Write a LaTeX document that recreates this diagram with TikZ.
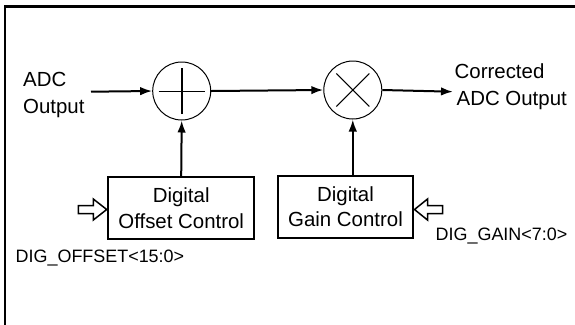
\documentclass[tikz,border=0pt]{standalone}
\usepackage{fontspec}
\setmainfont{Liberation Sans}
\usetikzlibrary{arrows.meta}
\begin{document}
\begin{tikzpicture}[x=1bp,y=-1bp,
  sumnode/.style={circle,draw,line width=1bp,minimum size=58bp,inner sep=0pt},
  ctrlbox/.style={draw,line width=2bp,minimum width=145bp,minimum height=62bp,inner sep=0pt,align=center,
    font=\fontsize{20.5}{26}\selectfont},
  lbl/.style={inner sep=0pt,align=left,font=\fontsize{20.5}{27}\selectfont},
  reg/.style={inner sep=0pt,font=\fontsize{18}{20}\selectfont},
  flow/.style={line width=2bp,-{Latex[length=12bp,width=8.5bp]}},
  hollow/.style={draw,line width=1.5bp,line join=miter}]
\useasboundingbox (0,0) rectangle (575,324);
\draw[line width=2.2bp] (5,330) -- (5,6.5) -- (580,6.5);
% summing junctions
\node[sumnode] (add) at (181.7,91) {};
\node[sumnode] (mul) at (352.8,90) {};
\draw[line width=1bp] ([xshift=-23bp]add.center) -- ([xshift=23bp]add.center);
\draw[line width=1.6bp] ([yshift=-23bp]add.center) -- ([yshift=23bp]add.center);
\draw[line width=1bp] ([shift={(-16.5bp,-16.5bp)}]mul.center) -- ([shift={(16.5bp,16.5bp)}]mul.center);
\draw[line width=1bp] ([shift={(-16.5bp,16.5bp)}]mul.center) -- ([shift={(16.5bp,-16.5bp)}]mul.center);
% boxes
\node[ctrlbox,minimum width=145.7bp] (off) at (181.2,208) {Digital\\Offset Control};
\node[ctrlbox,minimum width=135.6bp] (gain) at (345.5,206.7) {Digital\\Gain Control};
% labels
\node[lbl,anchor=north west] (in) at (23,71.7) {ADC\\Output};
\node[lbl,anchor=north west] (out) at (454.5,63.3) {Corrected\\\hspace*{2bp}ADC Output};
\node[reg,anchor=base west] (offreg) at (15.5,262) {DIG\_OFFSET<15:0>};
\node[reg,anchor=base west] (gainreg) at (435.5,240) {DIG\_GAIN<7:0>};
% connectors
\coordinate (inA) at (91,91.7);
\coordinate (outB) at (453,91.7);
\draw[flow] (inA) -- (add.west);
\draw[flow] (add.east) -- (mul.west);
\draw[flow] (mul.east) -- (outB);
\draw[flow] (off.north) -- (add.south);
\draw[flow] (gain.north -| mul.south) -- (mul.south);
% hollow bus arrows
\coordinate (tipL) at (106.7,209.5);
\coordinate (tipR) at (414.5,209.5);
\draw[hollow] (tipL) -- ++(-13.4,-10.5) -- ++(0,6.5) -- ++(-15,0) -- ++(0,8) -- ++(15,0) -- ++(0,6.5) -- cycle;
\draw[hollow] (tipR) -- ++(13,-10.5) -- ++(0,6.5) -- ++(15,0) -- ++(0,8) -- ++(-15,0) -- ++(0,6.5) -- cycle;
\end{tikzpicture}
\end{document}
